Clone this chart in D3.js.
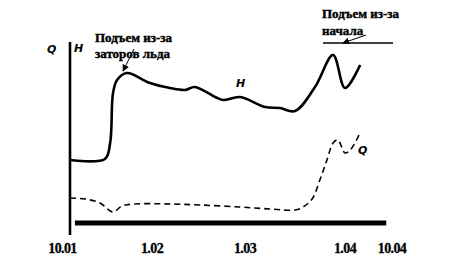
<!DOCTYPE html>
<html><head><meta charset="utf-8">
<script src="https://cdn.jsdelivr.net/npm/d3@7"></script>
<style>body{margin:0;background:#fff}svg{display:block}</style>
</head><body>
<svg id="c" width="472" height="275"></svg>
<script>
// x in days since 1 Jan; y in arbitrary relative units
const tickDays = [0, 31, 59, 90, 99];
const tickLabels = ["10.01", "1.02", "1.03", "1.04", "10.04"];
const hDays = [2.6, 14.7, 16.5, 17.5, 18.9, 22.3, 30.3, 36.4, 40.9, 43.9, 50.0, 52.4, 57.5, 65.2, 69.8, 74.5, 80.7, 86.3, 90.0, 92.9];
const hVals = [37.5, 38, 46, 71, 77.5, 81, 76, 73.5, 72.5, 74, 69, 67.5, 69, 64, 63.5, 62, 74, 90, 73.5, 85];
const qDays = [2.6, 7.8, 13.0, 17.5, 20.6, 24.9, 36.4, 45.5, 57.5, 66.7, 74.5, 77.0, 79.8, 82.2, 84.4, 86.3, 87.8, 90.0, 91.0, 92.9];
const qVals = [18.5, 18, 16, 11.5, 14.5, 15.5, 15.5, 15, 14, 13, 12.5, 14, 18, 27.5, 37.5, 46, 47.5, 41, 42.5, 51];
const iceDays = [4.3, 97.9];
const iceLevel = 6;
const note1 = ["Подъем из-за", "заторов льда"];
const note2 = ["Подъем из-за", "начала"];

const svg = d3.select("#c");
const x = d3.scaleLinear().domain(tickDays).range([62.5, 152, 245, 345, 392]);
const y = d3.scaleLinear().domain([0, 100]).range([235, 35]);
const axisX = 70;

svg.append("defs").append("marker").attr("id","ah").attr("viewBox","0 0 10 10")
  .attr("refX",9).attr("refY",5).attr("markerWidth",7).attr("markerHeight",7)
  .attr("orient","auto").append("path").attr("d","M0,0L10,5L0,10z").attr("fill","#000");

// vertical axis
svg.append("line").attr("x1",axisX).attr("x2",axisX).attr("y1",42).attr("y2",235)
  .attr("stroke","#000").attr("stroke-width",2.6);

// ice bar
svg.append("line").attr("x1",x(iceDays[0])).attr("x2",x(iceDays[1]))
  .attr("y1",y(iceLevel)).attr("y2",y(iceLevel)).attr("stroke","#000").attr("stroke-width",5);

const line = d3.line().x(d=>x(d[0])).y(d=>y(d[1])).curve(d3.curveCatmullRom.alpha(0.5));
svg.append("path").datum(hDays.map((d,i)=>[d,hVals[i]])).attr("d",line)
  .attr("fill","none").attr("stroke","#000").attr("stroke-width",2.6).attr("stroke-linejoin","round");
svg.append("path").datum(qDays.map((d,i)=>[d,qVals[i]])).attr("d",line)
  .attr("fill","none").attr("stroke","#000").attr("stroke-width",1.6).attr("stroke-dasharray","6,4");

// tick labels
svg.append("g").selectAll("text").data(tickDays).join("text")
  .attr("x",d=>x(d)).attr("y",253).attr("text-anchor","middle")
  .attr("font-family","Liberation Serif").attr("font-weight","bold").attr("font-size",14)
  .attr("letter-spacing",-0.6).attr("stroke","#000").attr("stroke-width",0.3)
  .text((d,i)=>tickLabels[i]);

// axis letters
const hand = {"font-family":"DejaVu Sans","font-weight":"bold","font-style":"italic","font-size":11};
function txt(s,xx,yy,attrs){const t=svg.append("text").attr("x",xx).attr("y",yy).text(s);for(const k in attrs)t.attr(k,attrs[k]);return t;}
txt("Q",47,53,hand);
txt("H",74,52,hand);
txt("H",236,87,hand);
txt("Q",358,154,hand);

// annotations
const ann = {"font-family":"Liberation Serif","font-weight":"bold","font-size":13,"stroke":"#000","stroke-width":0.4};
txt(note1[0],95,42,ann); txt(note1[1],95,58,ann);
txt(note2[0],322,18,ann); txt(note2[1],322,35,ann);
svg.append("line").attr("x1",134).attr("y1",49).attr("x2",123).attr("y2",71)
  .attr("stroke","#000").attr("stroke-width",1).attr("marker-end","url(#ah)");
svg.append("line").attr("x1",323).attr("x2",393).attr("y1",43).attr("y2",43).attr("stroke","#000").attr("stroke-width",1.3);
svg.append("line").attr("x1",366).attr("y1",35).attr("x2",343).attr("y2",43)
  .attr("stroke","#000").attr("stroke-width",1).attr("marker-end","url(#ah)");
</script>
</body></html>
